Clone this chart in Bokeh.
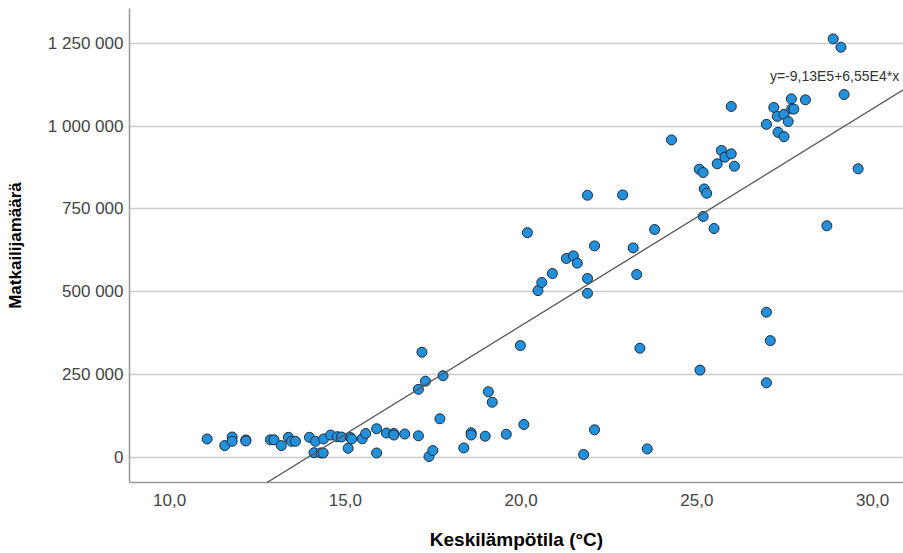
from bokeh.plotting import figure
from bokeh.models import ColumnDataSource, FixedTicker, Slope, Range1d, Label
from bokeh.embed import file_html
from bokeh.resources import INLINE

# Mean temperature (°C)
temp = [11.07, 11.57, 11.78, 11.78, 12.17, 12.17, 12.87, 12.97, 13.18, 13.38,
        13.47, 13.58, 13.98, 14.15, 14.11, 14.30, 14.37, 14.38, 14.58, 14.77,
        14.89, 15.08, 15.14, 15.18, 15.48, 15.58, 15.89, 15.89, 16.17, 16.38,
        16.38, 16.69, 17.08, 17.18, 17.08, 17.28, 17.78, 17.69, 17.38, 17.49,
        18.37, 18.58, 18.58, 18.98, 19.07, 19.18, 19.58, 19.98, 20.08, 20.18,
        20.48, 20.59, 20.89, 21.29, 21.49, 21.60, 21.89, 21.89, 21.89, 22.09,
        21.78, 22.09, 22.89, 23.19, 23.29, 23.38, 23.59, 23.80, 24.28, 25.07,
        25.18, 25.21, 25.28, 25.18, 25.49, 25.58, 25.70, 25.80, 25.98, 26.07,
        25.98, 25.09, 26.98, 27.09, 26.98, 26.98, 27.19, 27.29, 27.31, 27.48,
        27.48, 27.60, 27.69, 27.70, 27.76, 28.09, 28.70, 28.88, 29.10, 29.19,
        29.59]

# Number of tourists
tourists = [55000, 35000, 61000, 48000, 52000, 49000, 52500, 52500, 35000, 60000,
            48000, 48000, 60000, 48000, 13600, 13000, 12700, 55000, 67000, 62000,
            61000, 27000, 59500, 55000, 55600, 71500, 86000, 12700, 73000, 71500,
            67000, 70000, 64600, 317000, 205000, 229500, 246000, 116000, 2000, 20000,
            28000, 73700, 67000, 63400, 197500, 166000, 69400, 337000, 98700, 678000,
            503000, 527500, 554700, 600000, 608000, 585800, 791000, 539600, 495000, 638000,
            8000, 82700, 792000, 632000, 551600, 329000, 25000, 687500, 958000, 869600,
            859600, 810000, 797000, 726800, 690500, 886000, 926000, 906000, 916000, 878600,
            1059000, 263000, 437800, 352000, 224600, 1005000, 1056000, 1029000, 981000, 1035000,
            968000, 1013600, 1082000, 1052000, 1051000, 1079000, 698700, 1263000, 1238000, 1095000,
            870800]

# Linear fit
fit_intercept = -913000
fit_slope = 65500
fit_label = "y=-9,13E5+6,55E4*x"

x_ticks = [10, 15, 20, 25, 30]
x_tick_labels = ["10,0", "15,0", "20,0", "25,0", "30,0"]
y_ticks = [0, 250000, 500000, 750000, 1000000, 1250000]
y_tick_labels = ["0", "250 000", "500 000", "750 000", "1 000 000", "1 250 000"]

x_title = "Keskilämpötila (°C)"
y_title = "Matkailijamäärä"

FONT = "Liberation Sans"

p = figure(width=903, height=553, output_backend="svg", toolbar_location=None,
           x_range=Range1d(8.86, 30.88), y_range=Range1d(-76400, 1354800),
           min_border_left=129, min_border_right=0, min_border_top=8, min_border_bottom=71)
p.outline_line_color = None
p.background_fill_color = "white"
p.border_fill_color = "white"

src = ColumnDataSource(dict(x=temp, y=tourists))

p.xgrid.visible = False
p.ygrid.grid_line_color = "#cccccc"
p.ygrid.grid_line_width = 1.5

p.add_layout(Slope(gradient=fit_slope, y_intercept=fit_intercept,
                   line_color="#555555", line_width=1.3))

p.scatter("x", "y", source=src, size=10, fill_color="#2390dc",
          line_color="#1b2a3a", line_width=1)

# fit equation label placed near end of fit line
p.add_layout(Label(x=27.08, y=1150000, text=fit_label, text_font=FONT,
                   text_font_size="14px", text_color="#333333",
                   text_baseline="middle", text_align="left"))

p.xaxis.ticker = FixedTicker(ticks=x_ticks)
p.xaxis.major_label_overrides = {t: l for t, l in zip(x_ticks, x_tick_labels)}
p.yaxis.ticker = FixedTicker(ticks=y_ticks)
p.yaxis.major_label_overrides = {t: l for t, l in zip(y_ticks, y_tick_labels)}

for ax in (p.xaxis[0], p.yaxis[0]):
    ax.axis_line_color = "#999999"
    ax.axis_line_width = 1.5
    ax.major_tick_line_color = None
    ax.minor_tick_line_color = None
    ax.major_tick_out = 0
    ax.major_tick_in = 0
    ax.major_label_text_font = FONT
    ax.major_label_text_font_size = "17px"
    ax.major_label_text_color = "#444444"
    ax.axis_label_text_font = FONT
    ax.axis_label_text_font_style = "bold"
    ax.axis_label_text_color = "#000000"

p.xaxis.axis_label_text_font_size = "19px"
p.yaxis.axis_label_text_font_size = "17px"
p.xaxis.axis_label = x_title
p.yaxis.axis_label = y_title
p.xaxis.major_label_standoff = 11
p.yaxis.major_label_standoff = 6
p.xaxis.axis_label_standoff = 20
p.yaxis.axis_label_standoff = 20

open("out.html", "w").write(file_html(p, INLINE))
